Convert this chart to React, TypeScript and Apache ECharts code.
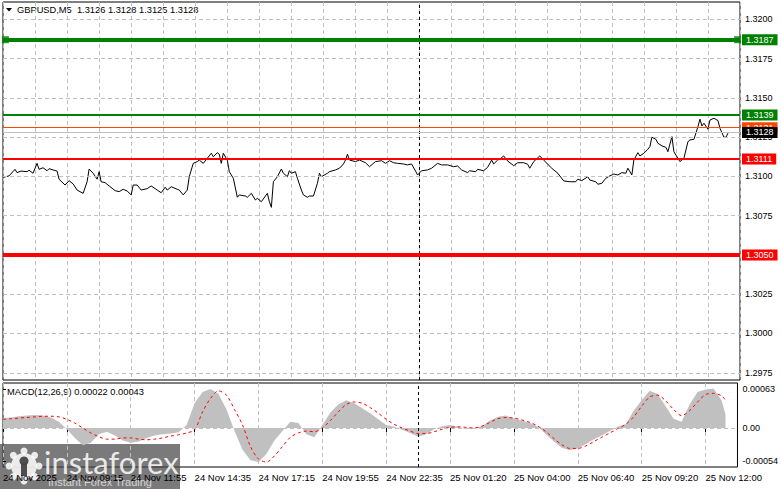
import { useEffect, useRef } from "react";
import * as echarts from "echarts";

const FONT = "Liberation Sans, Arial, sans-serif";

// time axis (bar index of M5 bars) and labels
const totalBars = 368;
const timeLabelBars = [0, 32, 64, 96, 128, 160, 192, 224, 256, 288, 320, 352];
const timeLabels = [
  "24 Nov 2025", "24 Nov 09:15", "24 Nov 11:55", "24 Nov 14:35", "24 Nov 17:15", "24 Nov 19:55",
  "24 Nov 22:35", "25 Nov 01:20", "25 Nov 04:00", "25 Nov 06:40", "25 Nov 09:20", "25 Nov 12:00",
];
const daySeparatorBar = 208;

// price axis
const priceMin = 1.29704;
const priceMax = 1.3211;
const priceTicks = [1.2975, 1.3, 1.3025, 1.3075, 1.31, 1.3125, 1.315, 1.3175, 1.32];
const priceGridLines = [1.2975, 1.3, 1.3025, 1.305, 1.3075, 1.31, 1.3125, 1.315, 1.3175, 1.32];

// header values
const symbolName = "GBPUSD,M5";
const ohlc = [1.3126, 1.3128, 1.3125, 1.3128];
const macdLast = 0.00022;
const signalLast = 0.00043;

// levels
const levelValues = [1.3187, 1.3139, 1.3131, 1.3111, 1.305, 1.3128];
const levelColors = ["#008000", "#008000", "#ff4500", "#ff0000", "#ff0000", "#c0c0c0"];
const levelBoxColors = ["#008000", "#008000", "#ff4500", "#ff0000", "#ff0000", "#000000"];
const levelWidths = [4, 2, 1, 2, 4, 1];

// close price [bar, price]
const closeSeries: [number, number][] = [
  [0, 1.30994], [3, 1.31003], [6, 1.31045], [7, 1.31024], [9, 1.31034], [12, 1.3103], [13, 1.31039],
  [15, 1.3102], [17, 1.31083], [18, 1.31045], [20, 1.31055], [22, 1.31036], [23, 1.31049], [25, 1.31041],
  [27, 1.31034], [28, 1.30982], [31, 1.30945], [33, 1.30973], [35, 1.30952], [37, 1.30913], [40, 1.30892],
  [42, 1.30966], [43, 1.31047], [45, 1.3102], [47, 1.30982], [48, 1.3103], [49, 1.30966], [51, 1.3096],
  [53, 1.30939], [56, 1.30909], [58, 1.30903], [60, 1.30918], [62, 1.30907], [64, 1.30882], [65, 1.30945],
  [67, 1.30945], [69, 1.30913], [72, 1.30922], [74, 1.30939], [77, 1.30913], [79, 1.30896], [81, 1.30931],
  [82, 1.30913], [84, 1.30934], [87, 1.30918], [88, 1.30913], [90, 1.30882], [92, 1.30913], [93, 1.30998],
  [95, 1.31083], [97, 1.31094], [98, 1.31104], [100, 1.31083], [102, 1.31115], [104, 1.31147], [105, 1.31125],
  [107, 1.31151], [108, 1.31141], [109, 1.31083], [110, 1.31147], [112, 1.31104], [113, 1.3103], [115, 1.30988],
  [117, 1.30867], [118, 1.30882], [121, 1.30875], [122, 1.30867], [124, 1.30892], [126, 1.3085], [127, 1.3086],
  [129, 1.30839], [132, 1.30892], [133, 1.30839], [134, 1.30803], [135, 1.30966], [137, 1.30998], [139, 1.31047],
  [140, 1.3102], [142, 1.30998], [143, 1.31036], [144, 1.3102], [146, 1.3103], [147, 1.30988], [149, 1.30913],
  [150, 1.30882], [152, 1.30867], [153, 1.30875], [155, 1.30875], [157, 1.30956], [158, 1.3102], [159, 1.30998],
  [162, 1.3102], [163, 1.3103], [166, 1.31041], [168, 1.31052], [170, 1.31079], [171, 1.31104], [172, 1.31141],
  [173, 1.31104], [176, 1.31094], [178, 1.31104], [181, 1.31087], [183, 1.31062], [186, 1.31094], [189, 1.311],
  [191, 1.31083], [193, 1.311], [195, 1.31087], [197, 1.31083], [200, 1.31079], [202, 1.31073], [204, 1.31079],
  [206, 1.31034], [207, 1.31009], [209, 1.31036], [212, 1.31041], [214, 1.31052], [217, 1.31083], [219, 1.31073],
  [222, 1.31073], [225, 1.31062], [227, 1.31066], [229, 1.31041], [232, 1.31024], [233, 1.31036], [236, 1.3103],
  [237, 1.31045], [240, 1.31036], [242, 1.31058], [244, 1.31104], [245, 1.31079], [247, 1.31104], [248, 1.31109],
  [250, 1.3113], [252, 1.31098], [255, 1.31068], [257, 1.31087], [260, 1.31087], [262, 1.31077], [263, 1.31052],
  [265, 1.31094], [268, 1.3113], [270, 1.31104], [272, 1.31077], [274, 1.31052], [277, 1.3102], [280, 1.30971],
  [283, 1.30966], [286, 1.30966], [287, 1.30982], [289, 1.30973], [292, 1.30998], [293, 1.30977], [296, 1.30966],
  [297, 1.3095], [299, 1.30956], [301, 1.30988], [303, 1.31003], [305, 1.31015], [307, 1.31009], [309, 1.31024],
  [311, 1.3102], [312, 1.31052], [314, 1.31009], [315, 1.31104], [317, 1.31151], [318, 1.3113], [320, 1.31147],
  [322, 1.31173], [323, 1.31189], [324, 1.31249], [326, 1.31236], [327, 1.31211], [329, 1.31194], [331, 1.31185],
  [332, 1.31157], [334, 1.31253], [335, 1.31157], [337, 1.31115], [338, 1.31094], [340, 1.31115], [342, 1.31221],
  [343, 1.31232], [345, 1.31236], [347, 1.31317], [348, 1.31364], [349, 1.31321], [350, 1.31338], [352, 1.313],
  [353, 1.31359], [355, 1.3137], [357, 1.31355], [358, 1.31306], [360, 1.31249], [361, 1.31249], [362, 1.31275],
];

// MACD (values in units of 0.00001), bars every 4
const macdBars = [
  0, 4, 8, 12, 16, 20, 24, 28, 32, 36, 40, 44, 48, 52, 56, 60, 64, 68, 72, 76, 80, 84, 88, 92, 96, 100,
  104, 108, 112, 116, 120, 124, 128, 132, 136, 140, 144, 148, 152, 156, 160, 164, 168, 172, 176, 180, 184,
  188, 192, 196, 200, 204, 208, 212, 216, 220, 224, 228, 232, 236, 240, 244, 248, 252, 256, 260, 264, 268,
  272, 276, 280, 284, 288, 292, 296, 300, 304, 308, 312, 316, 320, 324, 328, 332, 336, 340, 344, 348, 352,
  356, 360, 362,
];
const macdHistE5 = [
  16, 17, 19, 20, 21, 20, 17, 10, -2, -16, -28, -24, -10, -6, -12, -20, -24, -22, -16, -12, -10, -9, -7, 5,
  40, 58, 63, 55, 30, -5, -35, -52, -55, -42, -20, -5, 10, 8, -10, -15, 5, 25, 38, 45, 40, 32, 24, 14, 5, 2,
  -3, -8, -14, -10, -2, 3, 5, 2, -2, 0, 3, 12, 18, 20, 15, 12, 8, 2, -10, -22, -32, -36, -33, -26, -18, -12,
  -5, 2, 6, 28, 45, 60, 55, 35, 15, 10, 38, 58, 62, 64, 45, 22,
];
const macdSignalE5 = [
  14, 15, 16, 17, 18, 19, 19, 18, 14, 8, 0, -8, -14, -18, -18, -16, -16, -18, -19, -18, -16, -13, -11, -8,
  -3, 26, 48, 60, 53, 30, 5, -30, -50, -55, -45, -30, -15, -8, -5, -6, 0, 12, 26, 38, 42, 40, 33, 24, 14,
  6, 0, -5, -9, -9, -6, -2, 1, 2, 1, 0, 3, 9, 15, 17, 16, 13, 9, 3, -6, -17, -27, -33, -33, -29, -22, -15,
  -8, -1, 6, 18, 35, 50, 53, 44, 30, 20, 28, 42, 54, 56, 52, 45,
];
const macdMin = -0.00063;
const macdMax = 0.000727;
const macdTicks = [-0.00054, 0, 0.00063];

export default function App() {
  const ref = useRef<HTMLDivElement>(null);
  useEffect(() => {
    if (!ref.current) return;
    const chart = echarts.init(ref.current, undefined, { renderer: "svg" });

    const levelLines = levelValues.map((v, i) => ({
      yAxis: v,
      lineStyle: { color: levelColors[i], width: levelWidths[i], type: "solid" },
      label: {
        show: true,
        position: "end",
        distance: 2,
        formatter: v.toFixed(4),
        color: "#fff",
        backgroundColor: levelBoxColors[i],
        padding: [1, 4, 0, 4],
        lineHeight: 10,
        fontSize: 9,
        fontFamily: FONT,
      },
    }));

    const gridDash = { color: "#c0c0c0", width: 1, type: [4, 3] };

    const option: any = {
      animation: false,
      backgroundColor: "#fff",
      textStyle: { fontFamily: FONT },
      grid: [
        { left: 3, right: 41, top: 2, bottom: 109, show: true, borderColor: "#000", borderWidth: 1, backgroundColor: "#fff" },
        { left: 3, right: 41, top: 383, bottom: 22, show: true, borderColor: "#000", borderWidth: 1, backgroundColor: "#fff" },
      ],
      xAxis: [
        {
          type: "value", gridIndex: 0, min: 0, max: totalBars, interval: 16,
          axisLine: { show: false }, axisTick: { show: false }, axisLabel: { show: false },
          splitLine: { show: true, lineStyle: gridDash },
        },
        {
          type: "value", gridIndex: 1, min: 0, max: totalBars, interval: 16,
          axisLine: { show: false },
          axisTick: { show: true, customValues: timeLabelBars, length: 4, lineStyle: { color: "#000" } },
          axisLabel: {
            show: true,
            customValues: timeLabelBars,
            formatter: (v: number) => {
              const k = timeLabelBars.indexOf(Math.round(v));
              return k >= 0 ? timeLabels[k] : "";
            },
            align: "left",
            margin: 5,
            color: "#000",
            fontSize: 9.5,
            fontFamily: FONT,
          },
          splitLine: { show: true, lineStyle: gridDash },
        },
      ],
      yAxis: [
        {
          type: "value", gridIndex: 0, position: "right", min: priceMin, max: priceMax,
          axisLine: { show: false },
          axisTick: { show: true, customValues: priceTicks, length: 3, lineStyle: { color: "#000" } },
          axisLabel: {
            customValues: priceTicks,
            formatter: (v: number) => v.toFixed(4),
            margin: 5, color: "#000", fontSize: 9, fontFamily: FONT,
          },
          splitLine: { show: false },
        },
        {
          type: "value", gridIndex: 1, position: "right", min: macdMin, max: macdMax,
          axisLine: { show: false },
          axisTick: { show: true, customValues: macdTicks, length: 3, lineStyle: { color: "#000" } },
          axisLabel: {
            customValues: macdTicks,
            formatter: (v: number) => (Math.abs(v) < 1e-9 ? "0.00" : v.toFixed(5)),
            margin: 5, color: "#000", fontSize: 9, fontFamily: FONT,
          },
          splitLine: { show: false },
        },
      ],
      series: [
        {
          type: "line", xAxisIndex: 0, yAxisIndex: 0, silent: true,
          data: [[0, closeSeries[0][1]]], showSymbol: false, lineStyle: { width: 0, opacity: 0 },
          markLine: {
            silent: true, symbol: ["none", "none"], animation: false, precision: 5,
            label: { show: false },
            lineStyle: gridDash,
            data: priceGridLines.map((v) => ({ yAxis: v })),
          },
        },
        {
          type: "line", xAxisIndex: 0, yAxisIndex: 0, silent: true,
          data: closeSeries, showSymbol: false,
          lineStyle: { color: "#000", width: 1 },
          markLine: {
            silent: true, symbol: ["none", "none"], animation: false, precision: 5,
            data: [
              { xAxis: daySeparatorBar, lineStyle: { color: "#000", width: 1, type: [3, 3] }, label: { show: false } },
              ...levelLines,
            ],
          },
        },
        {
          type: "scatter", xAxisIndex: 0, yAxisIndex: 0, silent: true,
          symbol: "rect", symbolSize: 7,
          itemStyle: { color: levelColors[0] },
          data: [[1.2, levelValues[0]], [366.8, levelValues[0]]],
        },
        {
          type: "line", xAxisIndex: 1, yAxisIndex: 1, silent: true,
          data: macdBars.map((b, i) => [b, macdHistE5[i] / 100000]),
          showSymbol: false,
          lineStyle: { width: 0, opacity: 0 },
          areaStyle: { color: "#c0c0c0", opacity: 1, origin: 0 },
          markLine: {
            silent: true, symbol: ["none", "none"], animation: false, precision: 5,
            label: { show: false },
            data: [
              { yAxis: 0, lineStyle: gridDash },
              { xAxis: daySeparatorBar, lineStyle: { color: "#000", width: 1, type: [3, 3] } },
            ],
          },
        },
        {
          type: "line", xAxisIndex: 1, yAxisIndex: 1, silent: true,
          data: macdBars.map((b, i) => [b, macdSignalE5[i] / 100000]),
          showSymbol: false,
          smooth: 0.3,
          lineStyle: { color: "#ff0000", width: 1, type: [3, 3] },
        },
      ],
      graphic: [
        { type: "polygon", shape: { points: [[6, 8], [12, 8], [9, 11.5]] }, style: { fill: "#000" }, silent: true },
        {
          type: "text", x: 17, y: 10, silent: true,
          style: {
            text: `${symbolName}  ${ohlc.map((v) => v.toFixed(4)).join(" ")}`,
            fill: "#000", fontSize: 9.3, fontFamily: FONT, verticalAlign: "middle",
          },
        },
        {
          type: "text", x: 7, y: 392, silent: true,
          style: {
            text: `MACD(12,26,9) ${macdLast.toFixed(5)} ${signalLast.toFixed(5)}`,
            fill: "#000", fontSize: 9.3, fontFamily: FONT, verticalAlign: "middle",
          },
        },
        {
          type: "group", silent: true,
          children: [
            { type: "rect", shape: { x: 0, y: 444, width: 180, height: 45 }, style: { fill: "rgba(70,70,70,0.72)" } },
            { type: "circle", shape: { cx: 24, cy: 466, r: 13 }, style: { fill: "rgba(255,255,255,0.85)" } },
            ...[0, 45, 90, 135, 180, 225, 270, 315].map((a) => ({
              type: "circle",
              shape: {
                cx: 24 + 15 * Math.cos((a * Math.PI) / 180),
                cy: 466 + 15 * Math.sin((a * Math.PI) / 180),
                r: 3.5,
              },
              style: { fill: "rgba(255,255,255,0.85)" },
            })),
            { type: "circle", shape: { cx: 24, cy: 461, r: 4.5 }, style: { fill: "rgba(70,70,70,0.95)" } },
            { type: "rect", shape: { x: 21, y: 463, width: 6, height: 13 }, style: { fill: "rgba(70,70,70,0.95)" } },
            {
              type: "text", x: 44, y: 462,
              style: { text: "instaforex", fill: "rgba(255,255,255,0.85)", fontSize: 31, fontFamily: "Lato, Open Sans, sans-serif", verticalAlign: "middle" },
            },
            {
              type: "text", x: 48, y: 482,
              style: { text: "Instant Forex Trading", fill: "rgba(255,255,255,0.7)", fontSize: 11, fontFamily: FONT, verticalAlign: "middle" },
            },
          ],
        },
      ],
    };

    chart.setOption(option);
    return () => chart.dispose();
  }, []);

  return <div ref={ref} style={{ position: "fixed", left: 0, top: 0, width: 781, height: 489 }} />;
}
